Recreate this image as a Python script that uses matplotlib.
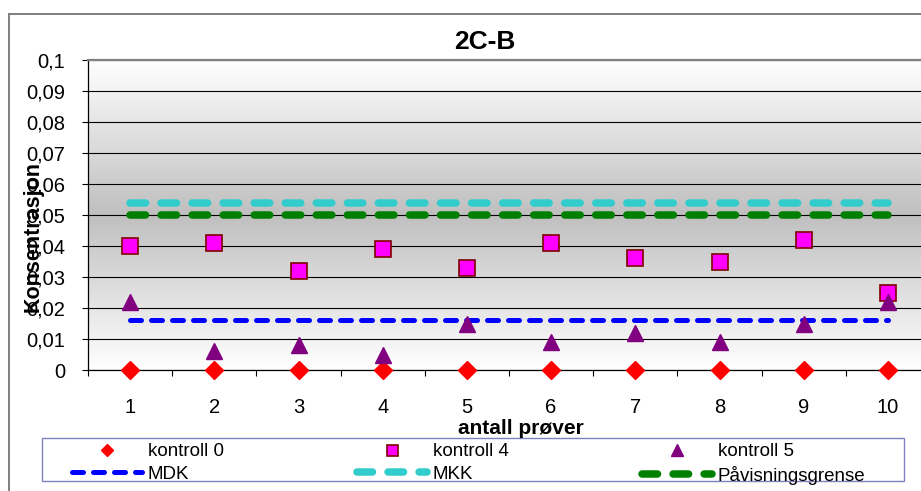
import numpy as np
import matplotlib
matplotlib.use("Agg")
import matplotlib.pyplot as plt
from matplotlib.lines import Line2D
from matplotlib.patches import Rectangle

plt.rcParams["font.family"] = ["Liberation Sans", "DejaVu Sans"]

# ---- data -------------------------------------------------------------
samples = [1, 2, 3, 4, 5, 6, 7, 8, 9, 10]
kontroll_0 = [0, 0, 0, 0, 0, 0, 0, 0, 0, 0]
kontroll_4 = [0.040, 0.041, 0.032, 0.039, 0.033, 0.041, 0.036, 0.035, 0.042, 0.025]
kontroll_5 = [0.022, 0.006, 0.008, 0.005, 0.015, 0.009, 0.012, 0.009, 0.015, 0.022]
mdk = [0.016, 0.016, 0.016, 0.016, 0.016, 0.016, 0.016, 0.016, 0.016, 0.016]
mkk = [0.054, 0.054, 0.054, 0.054, 0.054, 0.054, 0.054, 0.054, 0.054, 0.054]
pavisningsgrense = [0.05, 0.05, 0.05, 0.05, 0.05, 0.05, 0.05, 0.05, 0.05, 0.05]

y_ticks = [0, 0.01, 0.02, 0.03, 0.04, 0.05, 0.06, 0.07, 0.08, 0.09, 0.1]
y_tick_labels = ["0", "0,01", "0,02", "0,03", "0,04", "0,05",
                 "0,06", "0,07", "0,08", "0,09", "0,1"]
x_tick_labels = ["1", "2", "3", "4", "5", "6", "7", "8", "9", "10"]

title = "2C-B"
x_title = "antall prøver"
y_title = "Konsentrasjon"

# ---- figure layout (pixel helpers) -----------------------------------
W, H = 921, 491
fig = plt.figure(figsize=(W / 100, H / 100), dpi=100, facecolor="white")


def fx(px):
    return px / W


def fy(py):
    return 1 - py / H


ax = fig.add_axes([fx(88), fy(370), (930 - 88) / W, (370 - 60) / H])
ax.set_xlim(0.5, 10.5)
ax.set_ylim(0, 0.1)

# grey band fading to white at top and bottom
t = np.linspace(0, 1, 256)[:, None]
shade = 1 - 0.25 * (1 - np.abs(t - 0.5) * 2)
img = np.dstack([shade, shade, shade])
ax.imshow(img, extent=(0.5, 10.5, 0, 0.1), origin="lower", aspect="auto",
          interpolation="bilinear", zorder=0)

# gridlines and spines
ax.set_axisbelow(True)
ax.set_yticks(y_ticks)
ax.set_yticklabels(y_tick_labels)
ax.yaxis.grid(True, color="black", lw=0.8)
ax.spines["top"].set_color("#808080")
ax.spines["top"].set_linewidth(1.6)
ax.spines["right"].set_visible(False)
ax.spines["left"].set_linewidth(0.9)
ax.spines["bottom"].set_linewidth(0.9)

# category axis: ticks between categories, labels at category centres
ax.set_xticks(np.arange(0.5, 11, 1))
ax.tick_params(axis="x", which="major", length=4.5, width=0.8,
               direction="out", labelbottom=False)
ax.set_xticks(samples, minor=True)
ax.set_xticklabels(x_tick_labels, minor=True)
ax.tick_params(axis="x", which="minor", length=0, pad=20, labelsize=14.5)
ax.tick_params(axis="y", length=4.5, width=0.8, pad=12, labelsize=14.5)

# reference levels
h_mdk, = ax.plot(samples, mdk, color="#0000ff", lw=3.6, dashes=(2.2, 2.0),
                 dash_capstyle="round", label="MDK", zorder=3)
h_mkk, = ax.plot(samples, mkk, color="#33cccc", lw=5.4, dashes=(2.07, 2.07),
                 dash_capstyle="round", label="MKK", zorder=3)
h_pav, = ax.plot(samples, pavisningsgrense, color="#008000", lw=5.4,
                 dashes=(2.07, 2.07), dash_capstyle="round",
                 label="Påvisningsgrense", zorder=3)

# control samples
h_k0, = ax.plot(samples, kontroll_0, ls="none", marker="D", ms=8.7,
                color="#ff0000", label="kontroll 0", zorder=4, clip_on=False)
h_k4, = ax.plot(samples, kontroll_4, ls="none", marker="s", ms=11,
                mfc="#ff00ff", mec="#800000", mew=1.2, label="kontroll 4",
                zorder=4, clip_on=False)
h_k5, = ax.plot(samples, kontroll_5, ls="none", marker="^", ms=12,
                color="#800080", label="kontroll 5", zorder=4, clip_on=False)

# titles
fig.text(fx(485), fy(42), title, ha="center", va="center",
         fontsize=19, fontweight="bold")
fig.text(fx(521), fy(428), x_title, ha="center", va="center",
         fontsize=15, fontweight="bold")
fig.text(fx(33), fy(237), y_title, rotation=90, ha="center", va="center",
         fontsize=15.5, fontweight="bold")

# legend (column-major order for three columns)
handles = [h_k0, h_mdk, h_k4, h_mkk, h_k5, h_pav]
labels = [h.get_label() for h in handles]
fig.legend(handles, labels, ncol=3, loc="upper left",
           bbox_to_anchor=(fx(72), fy(443)), frameon=False, borderpad=0,
           borderaxespad=0, handlelength=3.75, handletextpad=0.3,
           columnspacing=7.1, labelspacing=0.3, fontsize=13.5, numpoints=1,
           markerscale=0.72)
fig.add_artist(Rectangle((fx(42), fy(481)), fx(904) - fx(42), fy(438) - fy(481),
                         transform=fig.transFigure, fill=False,
                         edgecolor="#8080c0", lw=1.0))

# outer chart border
fig.add_artist(Line2D([fx(8.5), fx(8.5)], [0, fy(13.5)], color="#808080",
                      lw=1.4, transform=fig.transFigure))
fig.add_artist(Line2D([fx(8.5), 1], [fy(13.5), fy(13.5)], color="#808080",
                      lw=1.4, transform=fig.transFigure))

fig.savefig("out.png", dpi=100, facecolor="white")
